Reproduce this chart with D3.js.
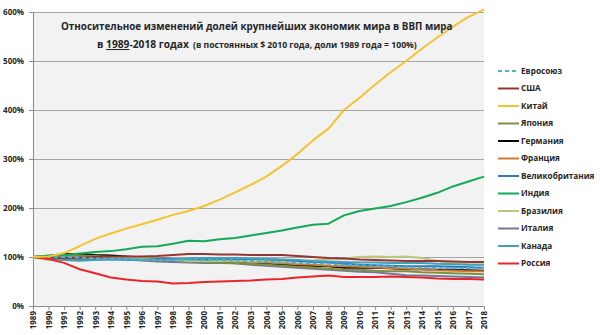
<!DOCTYPE html>
<html>
<head>
<meta charset="utf-8">
<script src="https://cdn.jsdelivr.net/npm/d3@7"></script>
<style>
  body { margin: 0; background: #fff; }
  text { font-family: "Open Sans", sans-serif; font-weight: 700; fill: #262626; }
</style>
</head>
<body>
<script>
// size of the picture
const width = 600, height = 335;

// years on the x axis
const years = [1989, 1990, 1991, 1992, 1993, 1994, 1995, 1996, 1997, 1998, 1999,
  2000, 2001, 2002, 2003, 2004, 2005, 2006, 2007, 2008, 2009,
  2010, 2011, 2012, 2013, 2014, 2015, 2016, 2017, 2018];

// share of world GDP, 1989 = 100%
const eu      = [100, 100, 100, 99, 97, 97, 96, 95, 94, 94, 94, 94, 94, 93, 92, 90, 89, 88, 87, 86, 84, 83, 82, 81, 79, 78, 78, 77, 77, 77];
const usa     = [100, 99, 98, 99, 100, 101, 101, 101, 102, 104, 106, 106, 105, 105, 104, 104, 104, 102, 100, 98, 97, 95, 94, 93, 92, 92, 92, 91, 90, 90];
const china   = [100, 101, 108, 122, 137, 148, 158, 167, 176, 186, 194, 204, 217, 232, 247, 264, 286, 310, 338, 362, 400, 425, 452, 477, 500, 525, 548, 570, 590, 605];
const japan   = [100, 102, 104, 103, 102, 100, 99, 99, 97, 94, 91, 90, 89, 87, 86, 84, 82, 80, 78, 76, 74, 74, 72, 71, 71, 69, 68, 67, 66, 65];
const germany = [100, 102, 106, 106, 104, 103, 101, 99, 97, 96, 95, 94, 94, 92, 89, 86, 84, 83, 82, 81, 78, 78, 78, 77, 75, 75, 74, 74, 73, 72];
const france  = [100, 100, 100, 99, 97, 97, 96, 94, 93, 94, 94, 93, 93, 92, 90, 89, 87, 85, 84, 82, 81, 80, 79, 77, 76, 75, 73, 72, 71, 71];
const uk      = [100, 98, 96, 94, 95, 96, 95, 94, 96, 96, 96, 95, 96, 96, 96, 95, 94, 92, 90, 89, 86, 84, 83, 82, 81, 81, 81, 80, 79, 78];
const india   = [100, 103, 104, 107, 110, 112, 116, 121, 122, 127, 133, 132, 136, 139, 144, 149, 154, 160, 166, 168, 185, 194, 199, 204, 212, 221, 231, 244, 254, 264];
const brazil  = [100, 94, 94, 92, 95, 97, 98, 97, 97, 95, 92, 92, 92, 93, 91, 92, 91, 91, 93, 96, 97, 100, 101, 100, 101, 98, 92, 87, 85, 84];
const italy   = [100, 99, 99, 98, 96, 95, 95, 93, 91, 90, 89, 88, 88, 87, 84, 82, 80, 78, 76, 74, 72, 70, 69, 66, 63, 62, 61, 60, 59, 58];
const canada  = [100, 97, 94, 93, 94, 96, 95, 94, 94, 95, 97, 98, 98, 98, 97, 96, 95, 94, 92, 91, 90, 89, 89, 88, 88, 88, 86, 85, 84, 84];
const russia  = [100, 96, 88, 75, 67, 58, 54, 51, 50, 46, 47, 49, 50, 51, 52, 54, 55, 58, 60, 62, 59, 59, 59, 60, 59, 58, 56, 55, 55, 54];

// y axis ticks
const yTicks = [0, 100, 200, 300, 400, 500, 600];

// legend order, names and colours
const series = [
  { name: "Евросоюз",        values: eu,      color: "#4bb3d0", dash: "4,3" },
  { name: "США",             values: usa,     color: "#943634" },
  { name: "Китай",           values: china,   color: "#f4c331" },
  { name: "Япония",          values: japan,   color: "#7f9140" },
  { name: "Германия",        values: germany, color: "#000000" },
  { name: "Франция",         values: france,  color: "#cf7a32" },
  { name: "Великобритания",  values: uk,      color: "#2e78c0" },
  { name: "Индия",           values: india,   color: "#14a85a" },
  { name: "Бразилия",        values: brazil,  color: "#bcc77e" },
  { name: "Италия",          values: italy,   color: "#76779a" },
  { name: "Канада",          values: canada,  color: "#43a1b6" },
  { name: "Россия",          values: russia,  color: "#e8262b" }
];

const plot = { left: 33, right: 484, top: 12, bottom: 306 };

const svg = d3.select("body")
    .append("svg")
    .attr("width", width)
    .attr("height", height);

const x = d3.scaleLinear().domain([1989, 2018]).range([plot.left, plot.right]);
const y = d3.scaleLinear().domain([0, 600]).range([plot.bottom, plot.top]);

// grey plot background
svg.append("rect")
    .attr("x", plot.left)
    .attr("y", plot.top)
    .attr("width", plot.right - plot.left)
    .attr("height", plot.bottom - plot.top)
    .attr("fill", "#f2f2f2");

// horizontal gridlines
const grid = svg.append("g")
    .attr("transform", `translate(${plot.left},0)`)
    .call(d3.axisLeft(y).tickValues(yTicks).tickSize(-(plot.right - plot.left)).tickFormat(""));
grid.select(".domain").remove();
grid.selectAll("line").attr("stroke", "#a6a6a6");

// y axis
const yAxis = svg.append("g")
    .attr("transform", `translate(${plot.left},0)`)
    .call(d3.axisLeft(y).tickValues(yTicks).tickSize(4).tickPadding(5).tickFormat(d => d + "%"));
yAxis.select(".domain").attr("stroke", "#8c8c8c");
yAxis.selectAll("line").attr("stroke", "#8c8c8c");
yAxis.selectAll("text").attr("font-size", 8).attr("fill", "#333");

// x axis with rotated year labels
const xAxis = svg.append("g")
    .attr("transform", `translate(0,${plot.bottom})`)
    .call(d3.axisBottom(x).tickValues(years).tickSize(4).tickFormat(d3.format("d")));
xAxis.select(".domain").attr("stroke", "#8c8c8c");
xAxis.selectAll("line").attr("stroke", "#8c8c8c");
xAxis.selectAll("text")
    .attr("font-size", 8)
    .attr("fill", "#333")
    .attr("transform", "rotate(-90)")
    .attr("text-anchor", "end")
    .attr("x", -5)
    .attr("y", 0)
    .attr("dy", "0.35em");

// lines
const line = d3.line()
    .x((d, i) => x(years[i]))
    .y(d => y(d));

const drawOrder = [4, 9, 5, 3, 8, 6, 10, 1, 0, 11, 7, 2];
drawOrder.forEach(i => {
    const s = series[i];
    svg.append("path")
        .datum(s.values)
        .attr("fill", "none")
        .attr("stroke", s.color)
        .attr("stroke-width", 2)
        .attr("stroke-dasharray", s.dash || null)
        .attr("stroke-linejoin", "round")
        .attr("d", line);
});

// legend
const legend = svg.selectAll(".legend")
    .data(series)
    .enter()
    .append("g")
    .attr("class", "legend")
    .attr("transform", (d, i) => `translate(498,${71 + i * 17.5})`);

legend.append("line")
    .attr("x1", 0).attr("x2", 21)
    .attr("stroke", d => d.color)
    .attr("stroke-width", 2)
    .attr("stroke-dasharray", d => d.dash || null);

legend.append("text")
    .attr("x", 23)
    .attr("dy", "0.35em")
    .attr("font-size", 8.2)
    .text(d => d.name);

// title: shrink each piece so it takes the same room as in the original
function fit(sel, w) {
    const len = sel.node().getComputedTextLength();
    const fs = +sel.attr("font-size");
    sel.attr("font-size", fs * w / len);
}

const t1 = svg.append("text")
    .attr("x", 61)
    .attr("y", 30)
    .attr("font-size", 11)
    .text("Относительное изменений долей крупнейших экономик мира в ВВП мира");
fit(t1, 392);

const t2 = svg.append("text")
    .attr("x", 97)
    .attr("y", 48)
    .attr("font-size", 11);
t2.append("tspan").text("в ");
t2.append("tspan").attr("text-decoration", "underline").text("1989");
t2.append("tspan").text("-2018 годах");
fit(t2, 92);

const t3 = svg.append("text")
    .attr("x", 193)
    .attr("y", 47.5)
    .attr("font-size", 8)
    .text("(в постоянных $ 2010 года, доли 1989 года = 100%)");
fit(t3, 224);
</script>
</body>
</html>
